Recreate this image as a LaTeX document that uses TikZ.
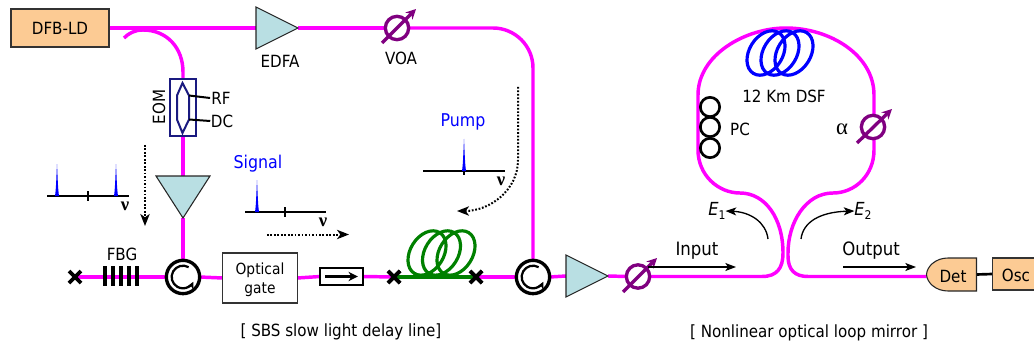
\documentclass[tikz,border=0pt]{standalone}
\usepackage{fontspec}
\setmainfont{DejaVu Sans Condensed}
\newfontfamily\greekf{Liberation Serif}
\usetikzlibrary{arrows.meta,shapes.geometric,shapes.misc,backgrounds,calc}
\definecolor{fib}{HTML}{FF00FF}
\definecolor{amp}{HTML}{B9DFE3}
\definecolor{org}{HTML}{FCCB94}
\definecolor{navy2}{HTML}{1A1A80}
\definecolor{purp}{HTML}{800080}
\definecolor{grn}{HTML}{008000}
\tikzset{
 x=.75pt,y=-.75pt,
 every node/.style={font=\fontsize{12.6}{15}\selectfont,inner sep=0pt,outer sep=0pt},
 fibre/.style={draw=fib,line width=2.6pt},
 ampshape/.style={draw=black!85,line width=.8pt,fill=amp,line join=miter},
 anchorbox/.style={rectangle,minimum width=#1*.75pt,minimum height=42*.75pt},
 orgbox/.style={draw=black!80,fill=org,line width=.8pt,rectangle},
 circu/.style={circle,draw=black,fill=white,line width=2.5pt,minimum size=25pt},
 circarrow/.style={draw=black,line width=1.7pt,-{Stealth[length=5.5pt,width=5.5pt]}},
 voanode/.style={circle,draw=purp,fill=white,line width=2.5pt,minimum size=17.5pt},
 voaarrow/.style={draw=purp,line width=2.5pt,-{Stealth[length=7.5pt,width=7.5pt]}},
 xmark/.style={cross out,draw=black,line width=2.7pt,minimum size=9pt},
 coilb/.style={ellipse,draw=blue,line width=2.4pt,minimum width=36pt,minimum height=25pt,rotate=58},
 coilg/.style={ellipse,draw=grn,line width=2.4pt,minimum width=36pt,minimum height=25pt,rotate=58},
 pcring/.style={circle,draw=black,line width=2pt,minimum size=14.5pt},
 axisl/.style={draw=black,line width=1.5pt},
 peak/.style={fill=blue,draw=none},
 bluetxt/.style={text=blue,font=\fontsize{13.2}{15}\selectfont},
 dotarrow/.style={draw=black,line width=1.5pt,dash pattern=on 1.3pt off 1.3pt,-{Stealth[length=9pt,width=7pt,inset=2.5pt]}},
 thinarrow/.style={draw=black,line width=1pt,-{Stealth[length=8pt,width=6pt,inset=2pt]}},
 nu/.style={font=\greekf\bfseries\fontsize{14}{14}\selectfont},
 iotxt/.style={font=\fontsize{13.8}{15}\selectfont},
 etxt/.style={font=\fontsize{13.5}{15}\selectfont\itshape},
}
\newcommand{\subdig}[1]{\raisebox{-.4ex}{\fontsize{9}{9}\selectfont\upshape #1}}
\begin{document}
\begin{tikzpicture}
\useasboundingbox (0,0) rectangle (1034,349);
% nodes
\node[orgbox,minimum width=73.5pt,minimum height=28.5pt] (dfb) at (60,28) {DFB-LD};
\node[anchorbox=42] (edfa) at (277,28) {};
\draw[ampshape] (edfa.north west) -- (edfa.east) -- (edfa.south west) -- cycle;
\node (edfal) at (280,61) {EDFA};
\node[voanode] (voa1) at (397,28) {};
\node (voa1l) at (401,58) {VOA};
\node[rectangle,draw=navy2,line width=1.8pt,fill=white,minimum width=19.5pt,minimum height=43pt] (eom) at (183,107.5) {};
\node[rotate=90] (eoml) at (159,107) {EOM};
\coordinate (h1) at (182.5,83);
\coordinate (h2) at (189,95.5);
\coordinate (h3) at (189,119.5);
\coordinate (h4) at (182.5,133);
\coordinate (h5) at (177,119.5);
\coordinate (h6) at (177,95.5);
\draw[navy2,line width=1.5pt] (h1)--(h2)--(h3)--(h4)--(h5)--(h6)--cycle;
\node (rf) at (221,98) {RF};
\node (dc) at (222,121) {DC};
\node[anchorbox=54] (amp1) at (183,197) {};
\path (amp1.center) +(0,-21) coordinate (a1n) +(-27,-21) coordinate (a1l) +(27,-21) coordinate (a1r) +(0,21) coordinate (a1s);
\draw[ampshape] (a1l) -- (a1r) -- (a1s) -- cycle;
\node[circu] (circ1) at (183,277) {};
\node[circu] (circ2) at (533,277) {};
\node[xmark] (x1) at (75,277) {};
\node (fbgl) at (122,254) {FBG};
\node[rectangle,draw=black!80,fill=white,line width=.8pt,minimum width=56pt,minimum height=37.5pt] (gate) at (260,278) {};
\node[align=center,font=\fontsize{11.5}{14}\selectfont] (gatel) at (260,279.5) {Optical\\gate};
\node[rectangle,draw=black,fill=white,line width=1.3pt,minimum width=32pt,minimum height=12.5pt] (iso) at (341.5,276.5) {};
\node[xmark] (x2) at (394,277) {};
\node[xmark] (x3) at (476,277) {};
\node[anchorbox=42] (amp2) at (587,276) {};
\draw[ampshape] (amp2.north west) -- (amp2.east) -- (amp2.south west) -- cycle;
\node[voanode] (voa2) at (638,276.5) {};
\node[voanode] (voa3) at (873,127) {};
\node[anchor=center,font=\greekf\fontsize{17}{17}\selectfont] (alpha) at (842,129) {α};
\node[pcring] (pc1) at (710,107) {};
\node[pcring] (pc2) at (710,127) {};
\node[pcring] (pc3) at (710,148) {};
\node (pcl) at (740,129) {PC};
\node (dsfl) at (784,96) {12 Km DSF};
\node[rectangle,minimum width=37.5pt,minimum height=24.75pt] (det) at (951.5,274.5) {};
\draw[draw=black!85,fill=org,line width=.8pt] (det.north east) -- (948,258) .. controls (936,258) and (927,266) .. (det.west) .. controls (927,283) and (936,291) .. (948,291) -- (det.south east) -- cycle;
\node (detl) at (953,276) {Det};
\node[orgbox,minimum width=32pt,minimum height=24pt] (osc) at (1013.5,274) {};
\node (oscl) at (1016,275) {Osc};
% coils
\node[coilb] (cb1) at (766,53) {};
\node[coilb] (cb2) at (780,53) {};
\node[coilb] (cb3) at (794,53) {};
\node[coilg] (cg1) at (427,253) {};
\node[coilg] (cg2) at (441.5,253) {};
\node[coilg] (cg3) at (456,253) {};
% connectors
\begin{pgfonlayer}{background}
\draw[fibre] (dfb.east) -- (edfa.west);
\draw[fibre] (edfa.east) -- (voa1.east);
\draw[fibre,rounded corners=30pt] (voa1.east) -| (circ2.north);
\coordinate (fbs) at (124,38);
\draw[fibre] (fbs) .. controls (129,33) and (135,30) .. (143,30) .. controls (167,30) and (183,48) .. (183,72) -- (eom.north);
\draw[fibre] (eom.south) -- (a1n);
\draw[fibre] (a1s) -- (circ1.north);
\draw[fibre] (x1.center) -- (circ1.west);
\draw[fibre] (circ1.east) -- (gate.west);
\draw[fibre] (gate.east) -- (iso.west);
\draw[fibre] (iso.east) -- (x2.center);
\draw[fibre] (x3.center) -- (circ2.west);
\draw[fibre] (circ2.east) -- (amp2.west);
\draw[fibre] (amp2.east) -- (voa2.west);
\coordinate (detin) at (det.west |- voa2.east);
\draw[fibre] (voa2.east) -- (762,276.5) .. controls (777,276.5) and (783,268) .. (783,253)
  .. controls (783,218) and (765,193) .. (740,193) .. controls (718,193) and (698,175) .. (698,150)
  -- (698,95) .. controls (698,55) and (745,28) .. (786,28) .. controls (830,28) and (874,55) .. (874,95)
  -- (874,150) .. controls (874,175) and (855,193) .. (833,193) .. controls (806,193) and (788,222) .. (788,253)
  -- (788,256) .. controls (788,270) and (795,276.5) .. (808,276.5) -- (detin);
\draw[black,line width=2pt] (det.east) -- (osc.west);
\end{pgfonlayer}
\draw[grn,line width=2.5pt] (x2.center) -- (x3.center);
\node[xmark] (x2b) at (x2) {};
\node[xmark] (x3b) at (x3) {};
% EOM leads
\draw[black,line width=1.5pt] (h2) -- ([xshift=-1pt]rf.west);
\draw[black,line width=1.5pt] (h3) -- ([xshift=-.5pt]dc.west);
% FBG bars
\foreach \xx in {105,113,121,129,137} \draw[black,line width=2.3pt] (\xx,266) -- (\xx,286);
% isolator arrow
\draw[black,line width=2pt,-{Stealth[length=7pt,width=7pt]}] ($(iso.west)+(5,0)$) -- ($(iso.east)+(-5,0)$);
% circulator arrows
\foreach \c in {circ1,circ2}
  \draw[circarrow] ([shift={(60:8.5pt)}]\c.center) arc[start angle=60,end angle=335,radius=8.5pt];
% VOA arrows
\coordinate (t1) at (382,43); \coordinate (h1a) at (416,9);
\draw[voaarrow] (t1) -- (h1a);
\coordinate (t2) at (623,292); \coordinate (h2a) at (657,258);
\draw[voaarrow] (t2) -- (h2a);
\coordinate (t3) at (857,143); \coordinate (h3a) at (892,109);
\draw[voaarrow] (t3) -- (h3a);
% spectra
\draw[axisl] (47,196) -- (129,196);
\draw[black,line width=1.1pt] (88,191) -- (88,201);
\fill[peak] (55,196) .. controls (56.2,188) and (56.4,175) .. (57,164) .. controls (57.6,175) and (57.8,188) .. (59,196) -- cycle;
\fill[peak] (114,196) .. controls (115.2,188) and (115.4,175) .. (116,164) .. controls (116.6,175) and (116.8,188) .. (118,196) -- cycle;
\node[nu] (nu1) at (125,206) {ν};
\node[bluetxt] (sig) at (258,164) {Signal};
\draw[axisl] (245,212) -- (326,212);
\draw[black,line width=1.1pt] (285,207) -- (285,217);
\fill[peak] (255,212) .. controls (256.2,204) and (256.4,191) .. (257,180) .. controls (257.6,191) and (257.8,204) .. (259,212) -- cycle;
\node[nu] (nu2) at (323,222) {ν};
\node[bluetxt] (pump) at (463,122) {Pump};
\draw[axisl] (423,171) -- (505,171);
\draw[black,line width=1.1pt] (464,167) -- (464,175);
\fill[peak] (462,171) .. controls (463.2,163) and (463.4,150) .. (464,139) .. controls (464.6,150) and (464.8,163) .. (466,171) -- cycle;
\node[nu] (nu3) at (501,181) {ν};
% dotted arrows
\coordinate (d1a) at (145,145); \coordinate (d1b) at (145,226);
\draw[dotarrow] (d1a) -- (d1b);
\coordinate (d2a) at (267,234.5); \coordinate (d2b) at (349,234.5);
\draw[dotarrow] (d2a) -- (d2b);
\coordinate (d3a) at (518,87); \coordinate (d3b) at (457,211);
\draw[dotarrow] (d3a) -- (518,160) .. controls (518,190) and (490,211) .. (d3b);
% input/output
\node[iotxt] (inl) at (697,251) {Input};
\coordinate (i1) at (648,267); \coordinate (i2) at (736,267);
\draw[thinarrow] (i1) -- (i2);
\node[iotxt] (outl) at (871,251) {Output};
\coordinate (o1) at (843,267); \coordinate (o2) at (916,267);
\draw[thinarrow] (o1) -- (o2);
\node[etxt] (e1) at (717,211) {E\subdig{1}};
\node[etxt] (e2) at (863,211) {E\subdig{2}};
\coordinate (ea) at (768,239); \coordinate (eb) at (801,239);
\draw[thinarrow] (ea) .. controls (766,222) and (750,212) .. (e1.east);
\draw[thinarrow] (eb) .. controls (803,222) and (820,212) .. (e2.west);
% captions
\node (cap1) at (341,332) {[ SBS slow light delay line]};
\node (cap2) at (809,333) {[ Nonlinear optical loop mirror ]};
\end{tikzpicture}
\end{document}
